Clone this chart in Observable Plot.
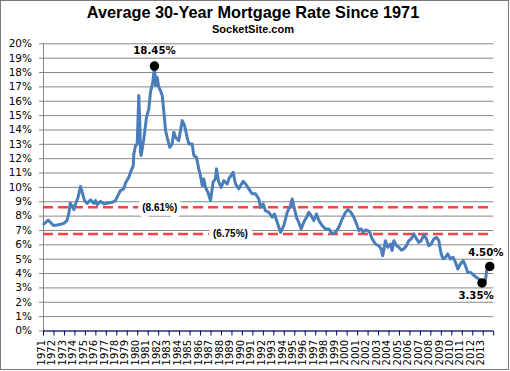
<!DOCTYPE html>
<html>
<head>
<meta charset="utf-8">
<script src="https://cdn.jsdelivr.net/npm/d3@7"></script>
<script src="https://cdn.jsdelivr.net/npm/@observablehq/plot@0.6"></script>
<style>
  html, body { margin: 0; padding: 0; background: #fff; }
  #wrap { position: relative; width: 510px; height: 371px; overflow: hidden; }
  #border { position: absolute; left: 0; top: 0; width: 509px; height: 370px; box-sizing: border-box; border: 1px solid #7a7a7a; pointer-events: none; }
  .title { position: absolute; left: 0; width: 506px; text-align: center; font-family: "Liberation Sans", Arial, sans-serif; font-weight: bold; color: #000; white-space: nowrap; }
  #t1 { top: 2px; font-size: 16.3px; line-height: 20px; }
  #t2 { top: 23px; font-size: 11px; line-height: 13px; }
  #chart { position: absolute; left: 0; top: 0; }
</style>
</head>
<body>
<div id="wrap">
  <div id="chart"></div>
  <div class="title" id="t1">Average 30-Year Mortgage Rate Since 1971</div>
  <div class="title" id="t2">SocketSite.com</div>
  <div id="border"></div>
</div>
<script>
// Decimal year of each reading
const years = [
  1971.03, 1971.45, 1971.95, 1972.3, 1972.7, 1972.95, 1973.25, 1973.45, 1973.55, 1973.75,
  1973.9, 1974.06, 1974.3, 1974.53, 1974.7, 1974.92, 1975.17, 1975.5, 1975.8, 1975.97,
  1976.13, 1976.44, 1976.76, 1977.08, 1977.56, 1977.88, 1978.1, 1978.35, 1978.67, 1978.83,
  1979.15, 1979.31, 1979.57, 1979.62, 1979.79, 1979.95, 1980.1, 1980.2, 1980.26, 1980.33,
  1980.58, 1980.84, 1981.06, 1981.22, 1981.44, 1981.6, 1981.7, 1981.86, 1982.01, 1982.17,
  1982.34, 1982.5, 1982.66, 1982.81, 1983.06, 1983.29, 1983.45, 1983.61, 1983.92, 1984.25,
  1984.47, 1984.72, 1984.88, 1985.2, 1985.36, 1985.61, 1985.83, 1985.99, 1986.16, 1986.31,
  1986.47, 1986.7, 1986.95, 1987.2, 1987.42, 1987.52, 1987.74, 1987.97, 1988.22, 1988.55,
  1988.7, 1989.12, 1989.34, 1989.65, 1990.07, 1990.29, 1990.61, 1990.93, 1991.25, 1991.56,
  1991.73, 1991.98, 1992.2, 1992.52, 1992.84, 1993.06, 1993.32, 1993.64, 1993.95, 1994.28,
  1994.59, 1994.75, 1994.9, 1995.16, 1995.38, 1995.61, 1995.86, 1996.12, 1996.34, 1996.57,
  1996.82, 1997.07, 1997.3, 1997.62, 1997.93, 1998.25, 1998.57, 1998.89, 1999.2, 1999.53,
  1999.85, 2000.07, 2000.33, 2000.64, 2000.9, 2001.12, 2001.34, 2001.53, 2001.75, 2001.97,
  2002.16, 2002.39, 2002.71, 2003.02, 2003.25, 2003.4, 2003.66, 2003.88, 2004.14, 2004.3,
  2004.46, 2004.72, 2004.94, 2005.17, 2005.41, 2005.67, 2005.89, 2006.12, 2006.37, 2006.63,
  2006.85, 2007.08, 2007.33, 2007.58, 2007.8, 2008.03, 2008.28, 2008.54, 2008.76, 2008.98,
  2009.17, 2009.39, 2009.61, 2009.87, 2010.13, 2010.35, 2010.57, 2010.82, 2011.08, 2011.3,
  2011.52, 2011.78, 2012.04, 2012.26, 2012.57, 2012.89, 2013.2, 2013.36, 2013.63
];
// 30-year mortgage rate (%) at each reading
const rates = [
  7.45, 7.72, 7.35, 7.38, 7.45, 7.5, 7.7, 8.3, 8.9, 8.7,
  8.45, 8.85, 9.31, 10.06, 9.66, 9.08, 8.89, 9.13, 8.89, 9.08,
  8.8, 9.03, 8.85, 8.89, 8.96, 9.08, 9.43, 9.78, 9.9, 10.3,
  10.7, 11.05, 11.52, 12.3, 12.91, 13.03, 16.4, 14.54, 12.45, 12.22,
  13.38, 14.89, 15.47, 16.63, 17.33, 18.45, 17.09, 17.67, 16.98, 16.75,
  16.4, 15.23, 13.96, 13.49, 12.79, 13.03, 13.84, 13.49, 13.26, 14.65,
  14.31, 13.49, 13.03, 13.03, 12.22, 12.1, 11.29, 10.82, 10.13, 10.59,
  10.01, 9.66, 9.08, 10.36, 10.59, 11.29, 10.36, 10.0, 10.47, 10.24,
  10.59, 11.05, 10.24, 9.9, 10.43, 10.24, 9.9, 9.55, 9.55, 9.2,
  8.61, 8.85, 8.38, 8.26, 7.92, 8.15, 7.57, 6.87, 7.34, 8.26,
  8.73, 9.2, 8.73, 7.92, 7.57, 7.11, 7.57, 7.92, 8.26, 8.03,
  7.69, 8.15, 7.69, 7.34, 7.11, 7.11, 6.76, 6.87, 7.22, 7.8,
  8.26, 8.45, 8.3, 7.92, 7.46, 6.99, 7.11, 6.87, 7.04, 6.99,
  6.87, 6.41, 6.06, 5.94, 5.71, 5.25, 6.29, 5.83, 6.06, 5.6,
  6.29, 5.94, 5.83, 5.64, 5.71, 5.94, 6.29, 6.41, 6.76, 6.41,
  6.17, 6.29, 6.69, 6.41, 5.94, 6.06, 6.41, 6.52, 6.29, 5.37,
  5.02, 5.13, 5.37, 5.02, 5.13, 4.78, 4.32, 4.67, 4.9, 4.55,
  4.08, 4.08, 3.92, 3.78, 3.62, 3.35, 3.5, 4.32, 4.5
];
// Highlighted points: peak, low, latest
const markYears = [1981.6, 2012.89, 2013.63];
const markRates = [18.45, 3.35, 4.5];
const markLabels = ["18.45%", "3.35%", "4.50%"];
// Average lines and their labels
const avgRates = [8.61, 6.75];
const avgLabels = ["(8.61%)", "(6.75%)"];
const avgLabelYears = [1982.1, 1988.85];
// Axis ticks
const yTicks = d3.range(0, 21);
const xLabelYears = d3.range(1971, 2014);
const xTickYears = d3.range(1971, 2015);

const series = years.map((t, i) => ({t, v: rates[i]}));
const marks = markYears.map((t, i) => ({t, v: markRates[i], label: markLabels[i]}));
const avgs = avgRates.map((v, i) => ({v, label: avgLabels[i], t: avgLabelYears[i]}));

const chart = Plot.plot({
  width: 510,
  height: 371,
  marginLeft: 43,
  marginRight: 16.8,
  marginTop: 43.3,
  marginBottom: 40.5,
  style: {fontFamily: "'DejaVu Sans', sans-serif", color: "#000", background: "transparent"},
  x: {domain: [1971, 2014], axis: null},
  y: {domain: [0, 20], axis: null},
  marks: [
    Plot.gridY(yTicks, {stroke: "#878787", strokeOpacity: 1, strokeWidth: 1}),
    Plot.axisY(yTicks, {tickSize: 4, tickPadding: 7.5, stroke: "#878787", fontSize: 10.5, label: null, tickFormat: d => d + "%"}),
    Plot.ruleX([1971], {stroke: "#878787", strokeWidth: 1}),
    Plot.ruleY(avgs, {y: "v", stroke: "#f24545", strokeWidth: 2.5, strokeDasharray: "10,5"}),
    Plot.text(avgs, {x: "t", y: "v", text: "label", fontFamily: "'Liberation Sans', Arial, sans-serif", fontWeight: "bold", fontSize: 10, fill: "#000", stroke: "white", strokeWidth: 9, paintOrder: "stroke"}),
    Plot.line(series, {x: "t", y: "v", stroke: "#4a7ebb", strokeWidth: 3, strokeLinejoin: "round", curve: "linear"}),
    Plot.dot(marks, {x: "t", y: "v", r: 4, fill: "#000", stroke: "#000"}),
    Plot.text(marks.filter(d => d.label === "18.45%"), {x: "t", y: "v", text: "label", dy: -15.5, fontWeight: "bold", fontSize: 10.2, fill: "#000"}),
    Plot.text(marks.filter(d => d.label === "3.35%"), {x: "t", y: "v", text: "label", dx: -6, dy: 13, fontWeight: "bold", fontSize: 10.2, fill: "#000"}),
    Plot.text(marks.filter(d => d.label === "4.50%"), {x: "t", y: "v", text: "label", dx: -4, dy: -14, fontWeight: "bold", fontSize: 10.2, fill: "#000"}),
    Plot.ruleY([0], {stroke: "#000080", strokeWidth: 1.2}),
    Plot.axisX(xTickYears, {tickSize: 5, stroke: "#000080", text: null, label: null}),
    Plot.axisX(xLabelYears, {tickSize: 0, tickPadding: 9, tickRotate: -90, label: null, tickFormat: d => String(d), fontSize: 10, dx: -2})
  ]
});
document.getElementById("chart").appendChild(chart);
</script>
</body>
</html>
